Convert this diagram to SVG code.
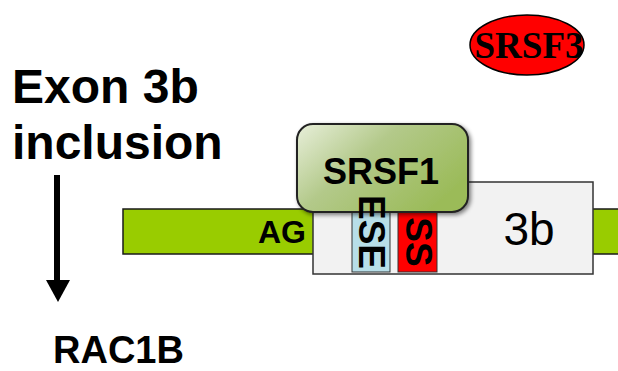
<svg xmlns="http://www.w3.org/2000/svg" width="618" height="371" viewBox="0 0 618 371">
<defs>
<linearGradient id="g1" x1="0" y1="0" x2="1" y2="0.6">
<stop offset="0" stop-color="#e8efda"/>
<stop offset="0.45" stop-color="#b3c98a"/>
<stop offset="1" stop-color="#9bbb59"/>
</linearGradient>
<filter id="sh" x="-10%" y="-10%" width="130%" height="130%">
<feGaussianBlur in="SourceAlpha" stdDeviation="2"/>
<feOffset dx="2" dy="2" result="o"/>
<feComponentTransfer><feFuncA type="linear" slope="0.5"/></feComponentTransfer>
<feMerge><feMergeNode/><feMergeNode in="SourceGraphic"/></feMerge>
</filter>
</defs>
<style>
.b{font-family:"Liberation Sans",Arial,sans-serif;font-weight:bold;fill:#000}
.r{font-family:"Liberation Sans",Arial,sans-serif;fill:#000}
</style>
<rect width="618" height="371" fill="#fff"/>
<g id="labels">
<text class="b" x="12" y="103" font-size="48">Exon 3b</text>
<text class="b" x="12" y="159" font-size="48">inclusion</text>
<text class="b" x="53" y="363" font-size="38">RAC1B</text>
</g>
<g id="connectors">
<line x1="57" y1="175" x2="57" y2="282" stroke="#000" stroke-width="6"/>
<polygon points="46,280 70,280 58,302" fill="#000"/>
</g>
<g id="intron">
<rect x="123" y="209" width="500" height="45" fill="#99cc00" stroke="#1a1a1a" stroke-width="1.5"/>
<text class="b" x="282" y="243" font-size="32" text-anchor="middle">AG</text>
</g>
<g id="exon3b">
<rect x="313" y="182" width="280" height="92" fill="#f2f2f2" stroke="#333" stroke-width="1.5"/>
<text class="r" x="529" y="245" font-size="46" text-anchor="middle">3b</text>
</g>
<g id="ese">
<rect x="352" y="208" width="38" height="64" fill="#b7dee8" stroke="#333" stroke-width="1"/>
</g>
<g id="ss">
<rect x="398" y="208" width="39" height="64" fill="#ff0000" stroke="#333" stroke-width="1"/>
<text class="b" transform="translate(406,242) rotate(90)" font-size="37" text-anchor="middle">SS</text>
</g>
<g id="srsf1">
<rect x="297" y="124" width="171" height="88" rx="16" fill="url(#g1)" stroke="#222" stroke-width="2" filter="url(#sh)"/>
<text class="b" x="381" y="184" font-size="36" text-anchor="middle">SRSF1</text>
</g>
<g id="ese-label">
<text class="b" transform="translate(359,232) rotate(90)" font-size="37" text-anchor="middle">ESE</text>
</g>
<g id="srsf3">
<ellipse cx="527" cy="45" rx="57" ry="30" fill="#ff0000" stroke="#000" stroke-width="1.5"/>
<text x="529" y="58" font-family="Liberation Serif,'Times New Roman',serif" font-weight="bold" font-size="37" text-anchor="middle">SRSF3</text>
</g>
</svg>
